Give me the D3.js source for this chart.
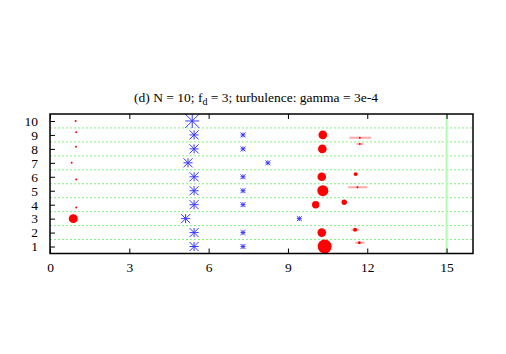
<!DOCTYPE html>
<html>
<head>
<meta charset="utf-8">
<script src="https://d3js.org/d3.v7.min.js"></script>
<style>
  body { margin: 0; background: #fff; }
  svg { display: block; }
  .axis text { font-family: "Liberation Serif", serif; font-size: 13.5px; fill: #000; }
</style>
</head>
<body>
<script>
// data
// red dots: x, y, weight (dot area)
var dotX = [0.97, 0.99, 0.98, 0.82, 0.99, 0.99, 0.88,
            10.32, 10.30, 10.28, 10.32, 10.05, 11.13, 10.28, 10.39];
var dotY = [10, 9.2, 8.15, 7, 5.8, 3.8, 3,
            9, 8, 6, 5, 4, 4.18, 2, 1];
var dotW = [0.02, 0.02, 0.02, 0.02, 0.02, 0.02, 0.41,
            0.38, 0.38, 0.38, 0.62, 0.28, 0.15, 0.38, 1.0];

// red dots with horizontal error bars
var errX = [11.72, 11.72, 11.56, 11.63, 11.54, 11.70];
var errY = [8.8, 8.35, 6.19, 5.25, 2.2, 1.27];
var errLo = [11.32, 11.60, 11.50, 11.28, 11.40, 11.55];
var errHi = [12.14, 11.85, 11.65, 12.00, 11.70, 11.90];
var errW = [0.02, 0.02, 0.08, 0.02, 0.08, 0.04];

// blue stars: x, y, weight (star size)
var starX = [5.38, 5.45, 5.45, 5.22, 5.45, 5.45, 5.45, 5.13, 5.45, 5.45,
             7.3, 7.3, 8.24, 7.3, 7.3, 7.3, 9.43, 7.3, 7.3];
var starY = [10, 9, 8, 7, 6, 5, 4, 3, 2, 1,
             9, 8, 7, 6, 5, 4, 3, 2, 1];
var starW = [1, 0.65, 0.65, 0.65, 0.65, 0.65, 0.65, 0.65, 0.65, 0.65,
             0.35, 0.35, 0.35, 0.35, 0.35, 0.35, 0.35, 0.35, 0.35];

var xTicks = [0, 3, 6, 9, 12, 15];
var yTicks = [1, 2, 3, 4, 5, 6, 7, 8, 9, 10];
var gridY = [1.5, 2.5, 3.5, 4.5, 5.5, 6.5, 7.5, 8.5, 9.5];
var limitX = 15;

var W = 506, H = 354;
var plotL = 50, plotR = 473, plotT = 114, plotB = 253.5;

var svg = d3.select("body").append("svg").attr("width", W).attr("height", H);

var x = d3.scaleLinear().domain([0, 16]).range([plotL, plotR]);
var y = d3.scaleLinear().domain([0.5, 10.5]).range([plotB, plotT]);
var rDot = d3.scaleSqrt().domain([0, 1]).range([0, 7]);
var sStar = d3.scaleLinear().domain([0, 1]).range([0, 7]);

// title
var title = svg.append("text")
  .attr("x", 256).attr("y", 102)
  .attr("text-anchor", "middle")
  .attr("font-family", "Liberation Serif, serif")
  .attr("font-size", 13.5);
title.append("tspan").text("(d) N = 10; f");
title.append("tspan").attr("dy", 3).attr("font-size", 10).text("d");
title.append("tspan").attr("dy", -3).text(" = 3; turbulence: gamma = 3e-4");

// dotted green grid
svg.append("g").selectAll("line").data(gridY).enter().append("line")
  .attr("x1", plotL).attr("x2", plotR)
  .attr("y1", function (d) { return y(d); })
  .attr("y2", function (d) { return y(d); })
  .attr("stroke", "#80f080").attr("stroke-width", 1)
  .attr("stroke-dasharray", "2,2");

// vertical limit line
svg.append("line")
  .attr("x1", x(limitX)).attr("x2", x(limitX))
  .attr("y1", plotT).attr("y2", plotB)
  .attr("stroke", "#b0ffb0").attr("stroke-width", 2);

// error bars
svg.append("g").selectAll("line").data(errX).enter().append("line")
  .attr("x1", function (d, i) { return x(errLo[i]); })
  .attr("x2", function (d, i) { return x(errHi[i]); })
  .attr("y1", function (d, i) { return y(errY[i]); })
  .attr("y2", function (d, i) { return y(errY[i]); })
  .attr("stroke", "#ffaaaa").attr("stroke-width", 2);

svg.append("g").selectAll("circle").data(errX).enter().append("circle")
  .attr("cx", function (d) { return x(d); })
  .attr("cy", function (d, i) { return y(errY[i]); })
  .attr("r", function (d, i) { return rDot(errW[i]); })
  .attr("fill", "#ff0000");

// red dots
svg.append("g").selectAll("circle").data(dotX).enter().append("circle")
  .attr("cx", function (d) { return x(d); })
  .attr("cy", function (d, i) { return y(dotY[i]); })
  .attr("r", function (d, i) { return rDot(dotW[i]); })
  .attr("fill", "#ff0000");

// blue stars (plus + cross)
function starPath(cx, cy, s) {
  var p = d3.path();
  p.moveTo(cx - s, cy); p.lineTo(cx + s, cy);
  p.moveTo(cx, cy - s); p.lineTo(cx, cy + s);
  p.moveTo(cx - s, cy - s); p.lineTo(cx + s, cy + s);
  p.moveTo(cx - s, cy + s); p.lineTo(cx + s, cy - s);
  return p.toString();
}
svg.append("g").selectAll("path").data(starX).enter().append("path")
  .attr("d", function (d, i) { return starPath(x(d), y(starY[i]), sStar(starW[i])); })
  .attr("fill", "none")
  .attr("stroke", "#3a3aff").attr("stroke-width", 1);

// axes with inward ticks
svg.append("g").attr("class", "axis")
  .attr("transform", "translate(0," + plotB + ")")
  .call(d3.axisBottom(x).tickValues(xTicks).tickSizeInner(-5).tickSizeOuter(0).tickPadding(9))
  .call(function (g) { g.select(".domain").remove(); });

svg.append("g").attr("class", "axis")
  .attr("transform", "translate(0," + plotT + ")")
  .call(d3.axisTop(x).tickValues(xTicks).tickSizeInner(-5).tickSizeOuter(0).tickFormat(""))
  .call(function (g) { g.select(".domain").remove(); });

svg.append("g").attr("class", "axis")
  .attr("transform", "translate(" + plotL + ",0)")
  .call(d3.axisLeft(y).tickValues(yTicks).tickSizeInner(-5).tickSizeOuter(0).tickPadding(12))
  .call(function (g) { g.select(".domain").remove(); });

// frame
svg.append("rect")
  .attr("x", plotL).attr("y", plotT)
  .attr("width", plotR - plotL).attr("height", plotB - plotT)
  .attr("fill", "none").attr("stroke", "#000").attr("stroke-width", 1.5);
</script>
</body>
</html>
